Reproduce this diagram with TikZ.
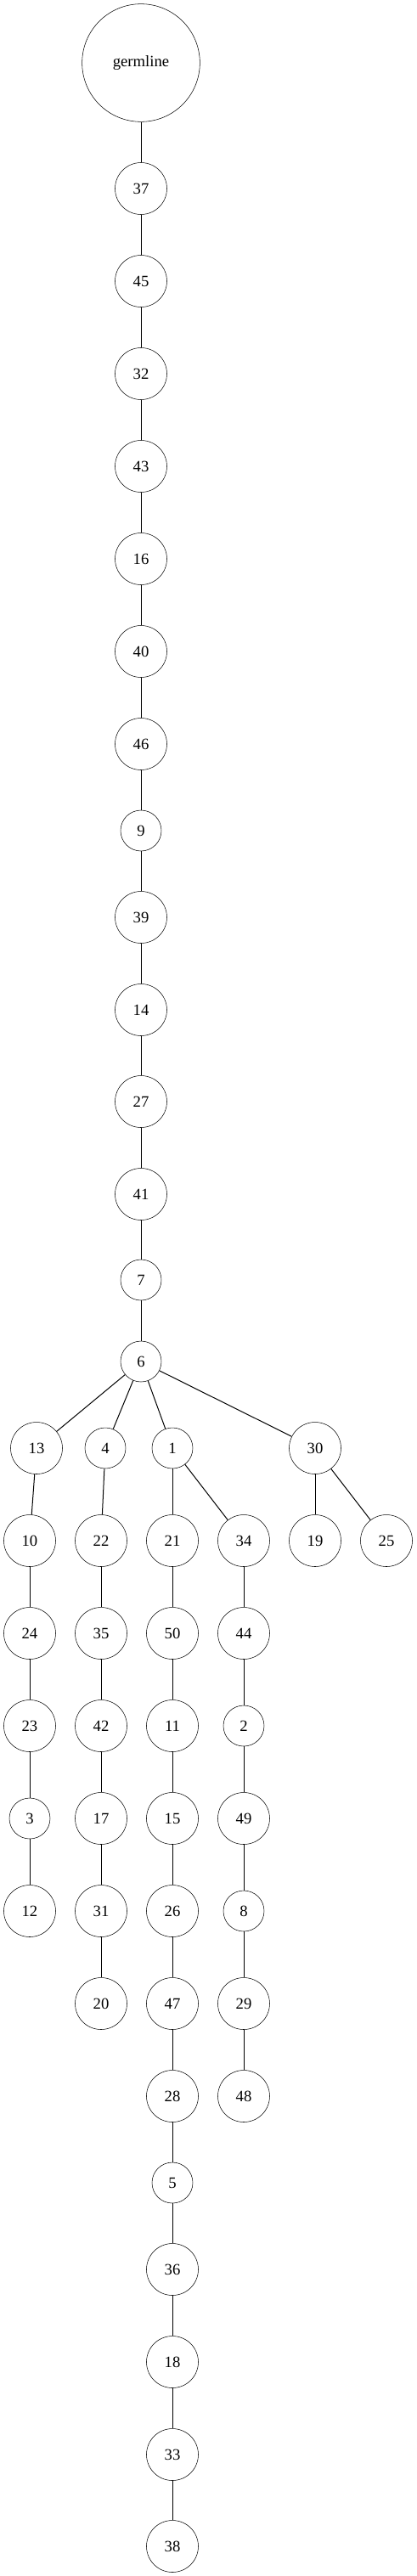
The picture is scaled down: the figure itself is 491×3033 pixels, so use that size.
\documentclass[tikz,border=0pt]{standalone}
\usepackage{fontspec}
\setmainfont{Liberation Serif}
\usepackage{tikz}
\usetikzlibrary{positioning}

\tikzset{
  vert/.style={draw, circle, inner sep=0pt, minimum size=45.75pt, font=\fontsize{14}{16}\selectfont},
  vertsm/.style={vert, minimum size=36pt},
  vertroot/.style={vert, minimum size=104pt},
  edge/.style={black, line width=0.75pt}
}

\begin{document}
\begin{tikzpicture}[x=0.75pt, y=-0.75pt]
\useasboundingbox (0,0) rectangle (491,3033);
\node[vertroot] (g) at (166,74) {germline};
\node[vert] (n37) at (166,222) {37};
\node[vert] (n45) at (166,331) {45};
\node[vert] (n32) at (166,440) {32};
\node[vert] (n43) at (166,549) {43};
\node[vert] (n16) at (166,658) {16};
\node[vert] (n40) at (166,767) {40};
\node[vert] (n46) at (166,876) {46};
\node[vertsm] (n9) at (166,978) {9};
\node[vert] (n39) at (166,1080) {39};
\node[vert] (n14) at (166,1189) {14};
\node[vert] (n27) at (166,1297) {27};
\node[vert] (n41) at (166,1406) {41};
\node[vertsm] (n7) at (166,1507) {7};
\node[vertsm] (n6) at (166,1603) {6};
\node[vert] (n13) at (43,1705) {13};
\node[vertsm] (n4) at (124,1705) {4};
\node[vertsm] (n1) at (203,1705) {1};
\node[vert] (n30) at (371,1705) {30};
\node[vert] (n10) at (35,1814) {10};
\node[vert] (n22) at (119,1814) {22};
\node[vert] (n21) at (203,1814) {21};
\node[vert] (n34) at (287,1814) {34};
\node[vert] (n19) at (371,1814) {19};
\node[vert] (n25) at (455,1814) {25};
\node[vert] (n24) at (35,1923) {24};
\node[vert] (n35) at (119,1923) {35};
\node[vert] (n50) at (203,1923) {50};
\node[vert] (n44) at (287,1923) {44};
\node[vert] (n23) at (35,2032) {23};
\node[vert] (n42) at (119,2032) {42};
\node[vert] (n11) at (203,2032) {11};
\node[vertsm] (n2) at (287,2032) {2};
\node[vertsm] (n3) at (35,2141) {3};
\node[vert] (n17) at (119,2141) {17};
\node[vert] (n15) at (203,2141) {15};
\node[vert] (n49) at (287,2141) {49};
\node[vert] (n12) at (35,2250) {12};
\node[vert] (n31) at (119,2250) {31};
\node[vert] (n26) at (203,2250) {26};
\node[vertsm] (n8) at (287,2250) {8};
\node[vert] (n20) at (119,2359) {20};
\node[vert] (n47) at (203,2359) {47};
\node[vert] (n29) at (287,2359) {29};
\node[vert] (n28) at (203,2468) {28};
\node[vert] (n48) at (287,2468) {48};
\node[vertsm] (n5) at (203,2570) {5};
\node[vert] (n36) at (203,2672) {36};
\node[vert] (n18) at (203,2781) {18};
\node[vert] (n33) at (203,2890) {33};
\node[vert] (n38) at (203,2998) {38};
\draw[edge] (g) -- (n37);
\draw[edge] (n37) -- (n45);
\draw[edge] (n45) -- (n32);
\draw[edge] (n32) -- (n43);
\draw[edge] (n43) -- (n16);
\draw[edge] (n16) -- (n40);
\draw[edge] (n40) -- (n46);
\draw[edge] (n46) -- (n9);
\draw[edge] (n9) -- (n39);
\draw[edge] (n39) -- (n14);
\draw[edge] (n14) -- (n27);
\draw[edge] (n27) -- (n41);
\draw[edge] (n41) -- (n7);
\draw[edge] (n7) -- (n6);
\draw[edge] (n6) -- (n13);
\draw[edge] (n6) -- (n4);
\draw[edge] (n6) -- (n1);
\draw[edge] (n6) -- (n30);
\draw[edge] (n13) -- (n10);
\draw[edge] (n10) -- (n24);
\draw[edge] (n24) -- (n23);
\draw[edge] (n23) -- (n3);
\draw[edge] (n3) -- (n12);
\draw[edge] (n4) -- (n22);
\draw[edge] (n22) -- (n35);
\draw[edge] (n35) -- (n42);
\draw[edge] (n42) -- (n17);
\draw[edge] (n17) -- (n31);
\draw[edge] (n31) -- (n20);
\draw[edge] (n1) -- (n21);
\draw[edge] (n1) -- (n34);
\draw[edge] (n21) -- (n50);
\draw[edge] (n50) -- (n11);
\draw[edge] (n11) -- (n15);
\draw[edge] (n15) -- (n26);
\draw[edge] (n26) -- (n47);
\draw[edge] (n47) -- (n28);
\draw[edge] (n28) -- (n5);
\draw[edge] (n5) -- (n36);
\draw[edge] (n36) -- (n18);
\draw[edge] (n18) -- (n33);
\draw[edge] (n33) -- (n38);
\draw[edge] (n34) -- (n44);
\draw[edge] (n44) -- (n2);
\draw[edge] (n2) -- (n49);
\draw[edge] (n49) -- (n8);
\draw[edge] (n8) -- (n29);
\draw[edge] (n29) -- (n48);
\draw[edge] (n30) -- (n19);
\draw[edge] (n30) -- (n25);
\end{tikzpicture}
\end{document}
